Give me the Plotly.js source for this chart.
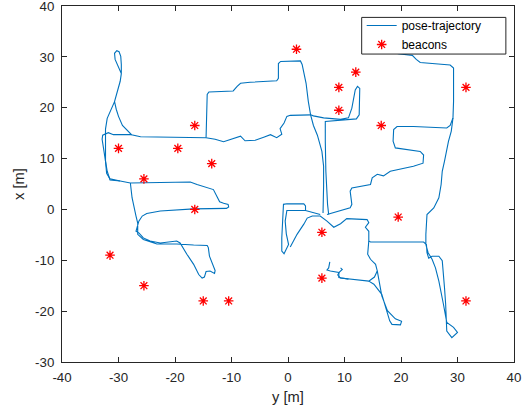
<!DOCTYPE html>
<html>
<head>
<meta charset="utf-8">
<script src="https://cdn.plot.ly/plotly-3.0.1.min.js"></script>
<style>
  html, body { margin: 0; padding: 0; background: #fff; }
  #chart { width: 530px; height: 414px; }
</style>
</head>
<body>
<div id="chart"></div>
<script>
// Beacon positions: horizontal axis is y [m], vertical axis is x [m]
const beaconY = [1.5, 12, 9, 31.5, 9, -16.5, 16.5, -30, -19.5, -13.5, -25.5, -16.5, 19.5, 6, -31.5, 6, -25.5, -15, -10.5, 31.5];
const beaconX = [31.5, 27, 24, 24, 19.5, 16.5, 16.5, 12, 12, 9, 6, 0, -1.5, -4.5, -9, -13.5, -15, -18, -18, -18];

// Pose trajectory, stored as pieces (y = horizontal, x = vertical)
const westLoopY = [-29.7,-31.5,-32.1,-32.3,-32.3,-32.3,-32.0,-31.3,-30.7,-30.2,-29.7,-29.5,-30.0,-30.6,-30.7,-30.3,-29.9,-29.6,-29.5,-29.5,-29.7,-30.2,-30.7,-30.4,-30.0,-29.3,-28.3,-27.7,-26.1,-22.6,-14.5];
const westLoopX = [5.6,6.0,7.1,9.5,12.4,15.8,17.9,19.7,21.2,23.2,25.2,26.7,28.1,29.5,30.7,31.2,31.0,30.1,28.5,26.7,25.2,23.2,21.2,19.7,18.3,16.5,15.5,14.7,14.3,14.2,14.1];

const westArcY = [-27.7,-30.9,-31.8,-32.8,-32.9,-32.6,-32.3,-32.0,-31.5,-29.7];
const westArcX = [14.7,14.7,15.1,14.6,13.8,12.0,9.5,7.5,5.8,5.6];

const northRouteY = [-14.5,-14.4,-14.3,-14.3,-14.0,-9.7,-9.0,-8.4,-6.7,-2.0,-1.7,-1.7,-1.3,0.4,2.2,2.5,2.9,3.2,3.6,4.0,4.5,5.2,6.0,6.3,6.3,6.3,6.2];
const northRouteX = [14.1,17.3,21.2,22.6,23.1,23.3,24.2,24.8,25.0,25.3,25.8,28.7,29.1,29.2,29.2,28.5,26.7,24.8,21.2,18.6,16.5,14.6,11.4,8.5,4.6,1.0,-0.7];

const fingerRouteY = [-14.5,-12.9,-11.4,-9.6,-8.4,-7.6,-5.8,-4.3,-3.1,-2.0,-1.1,-1.4,-0.7,-0.2,0.4,4.0,4.5,6.3,9.3,10.7,11.3,11.9,12.3,12.7,12.7,12.6,12.1,9.8,8.1,6.6,6.6,6.7,7.0,7.2];
const fingerRouteX = [14.1,13.8,13.3,14.0,14.4,13.5,13.6,14.2,14.7,14.1,14.8,15.9,17.0,18.3,18.5,18.6,18.4,18.0,17.7,18.0,19.9,23.5,24.2,23.8,21.2,18.6,17.8,17.6,17.5,17.3,13.4,7.5,1.0,-1.0];

const southLoopY = [-29.7,-27.9,-22.6,-17.3,-16.1,-13.2,-12.6,-12.1,-11.4,-10.6,-10.5,-10.9,-16.7,-22.6,-25.0,-25.8,-26.4,-26.7,-26.9,-26.4,-25.6,-24.4,-22.6,-19.7,-19.1,-17.9,-16.7,-15.8,-15.2,-14.8,-14.5,-13.8,-13.0,-12.9,-13.5,-13.9,-14.1,-14.3,-16.7,-19.7,-23.2,-25.6,-26.6,-26.6,-26.9,-27.2,-27.6,-27.9];
const southLoopX = [5.6,5.2,5.3,5.4,4.9,3.9,2.6,1.5,1.2,1.0,0.5,0.2,0.1,-0.3,-0.8,-1.3,-2.3,-3.3,-4.3,-4.6,-5.6,-6.2,-6.6,-6.2,-6.6,-8.8,-10.8,-12.8,-13.5,-13.3,-12.2,-12.1,-12.6,-12.0,-10.5,-9.2,-7.5,-7.1,-7.0,-6.8,-6.8,-5.9,-4.9,-2.7,-1.3,0.3,2.3,5.2];

const centreBoxY = [5.7,4.5,3.1,-0.2,-0.5,-0.3,0.1,-0.7,-1.1,-1.1,-0.9,-0.8,-0.8,-0.2,2.8,3.1,3.1];
const centreBoxX = [-1.0,-0.7,-0.2,-0.2,-2.3,-4.8,-6.9,-8.7,-8.2,-5.6,-2.3,0.3,1.0,1.1,1.1,0.7,-0.2];

const eastRouteY = [0.4,1.6,2.8,3.4,4.3,5.7,6.9,8.1,9.3,10.4,14.0,14.3,13.7,14.3,14.3,14.6,24.0,24.5,24.6,24.9,25.5,26.7,27.3,27.5,27.7,27.9,28.0,28.1,29.0,30.0,29.3,28.1,27.5,26.7,26.1,25.5,24.8,24.4,24.4,24.6,25.8,26.7,27.1,27.3,27.7,28.4,28.9,29.2,29.3,29.3,28.7,23.4,22.7,22.0,19.5,18.1];
const eastRouteX = [-7.4,-4.9,-2.9,-1.7,-1.3,-1.3,-2.3,-3.5,-2.8,-1.8,-2.0,-2.6,-3.5,-4.3,-6.2,-6.4,-6.4,-6.9,-8.5,-9.6,-9.2,-9.2,-10.1,-12.1,-15.4,-18.6,-22.6,-23.9,-25.2,-24.2,-23.2,-22.2,-18.6,-14.1,-11.5,-9.8,-8.5,-6.9,-4.9,-1.0,0.3,2.3,4.9,7.5,9.5,13.4,15.4,18.0,21.2,27.8,28.4,28.9,29.5,30.3,30.6,31.2];

const eastInnerY = [29.2,28.7,28.1,22.2,19.3,18.7,18.6,19.0,23.4,24.0,23.9,22.2,18.1,16.9,15.8,14.9,14.6,11.3,11.0,11.3,11.0,9.3,6.9];
const eastInnerX = [18.0,16.5,16.0,16.3,16.3,15.7,13.4,12.1,11.4,10.7,9.1,8.5,7.5,6.6,6.9,6.2,4.9,4.2,3.6,1.0,0.3,-0.3,-1.0];

const hookY = [14.3,14.1,14.6,15.5,15.8,15.3,14.3,10.7,9.3,8.8,9.1,9.6,9.3];
const hookX = [-6.2,-8.8,-9.8,-10.8,-12.1,-13.3,-14.1,-13.7,-13.5,-12.9,-12.3,-11.8,-11.5];

const smallHookY = [7.4,7.2,6.9,7.5,9.0,9.0,10.7];
const smallHookX = [-10.3,-11.5,-11.9,-12.1,-12.4,-13.4,-13.7];

const southSpurY = [14.3,15.2,16.6,17.5,18.0,18.4,19.9,20.1,19.0,17.6,16.6,15.8];
const southSpurX = [-14.1,-14.7,-16.7,-19.9,-21.9,-22.6,-22.7,-22.0,-21.5,-19.9,-17.0,-12.1];

const tickVals = [-40, -30, -20, -10, 0, 10, 20, 30, 40];

// Join the pieces into one line trace, with gaps between pieces
const pieces = [
  [westLoopY, westLoopX], [westArcY, westArcX], [northRouteY, northRouteX],
  [fingerRouteY, fingerRouteX], [southLoopY, southLoopX], [centreBoxY, centreBoxX],
  [eastRouteY, eastRouteX], [eastInnerY, eastInnerX], [hookY, hookX],
  [smallHookY, smallHookX], [southSpurY, southSpurX]
];
const trajY = [], trajX = [];
pieces.forEach(([ys, xs], i) => {
  if (i > 0) { trajY.push(null); trajX.push(null); }
  trajY.push(...ys);
  trajX.push(...xs);
});

const ink = '#262626';
const fontFamily = 'Liberation Sans, Arial, Helvetica, sans-serif';

const traces = [
  {
    type: 'scatter', mode: 'lines', name: 'pose-trajectory',
    x: trajY, y: trajX, connectgaps: false,
    line: { color: '#0072BD', width: 1.1 }
  },
  {
    type: 'scatter', mode: 'markers', name: 'beacons',
    x: beaconY, y: beaconX,
    marker: { symbol: 'asterisk-open', size: 8, color: '#FF0000', line: { color: '#FF0000', width: 1.3 } }
  }
];

function axis(range, vals, label, labelGap, titleGap) {
  return {
    range: range,
    tickvals: vals,
    ticktext: vals.map(v => String(v)),
    ticks: 'inside', ticklen: 5, tickwidth: 1, tickcolor: ink,
    ticklabelstandoff: labelGap,
    ticklabeloverflow: 'allow',
    showline: true, linecolor: ink, linewidth: 1, mirror: 'ticks',
    showgrid: false, zeroline: false,
    tickfont: { family: fontFamily, size: 13.3, color: ink },
    title: { text: label, standoff: titleGap, font: { family: fontFamily, size: 14.7, color: ink } }
  };
}

const layout = {
  width: 530, height: 414,
  margin: { l: 62, r: 16, t: 6, b: 52 },
  paper_bgcolor: '#fff', plot_bgcolor: '#fff',
  font: { family: fontFamily, color: ink },
  xaxis: axis([-40, 40], tickVals, 'y [m]', 3, 7),
  yaxis: axis([-30, 40], tickVals.filter(v => v >= -30), 'x [m]', 4, 6),
  showlegend: true,
  // legend frame, drawn as a white box over the plot area
  shapes: [{
    type: 'rect', xref: 'paper', yref: 'paper', layer: 'above',
    x0: 0.663, x1: 0.982, y0: 0.865, y1: 0.968,
    fillcolor: '#fff', line: { color: ink, width: 1 }
  }],
  legend: {
    x: 0.663, y: 0.986, xanchor: 'left', yanchor: 'top',
    bgcolor: 'rgba(0,0,0,0)', borderwidth: 0,
    font: { family: fontFamily, size: 12, color: '#000' }
  }
};

Plotly.newPlot('chart', traces, layout, { displayModeBar: false, staticPlot: true });
</script>
</body>
</html>
